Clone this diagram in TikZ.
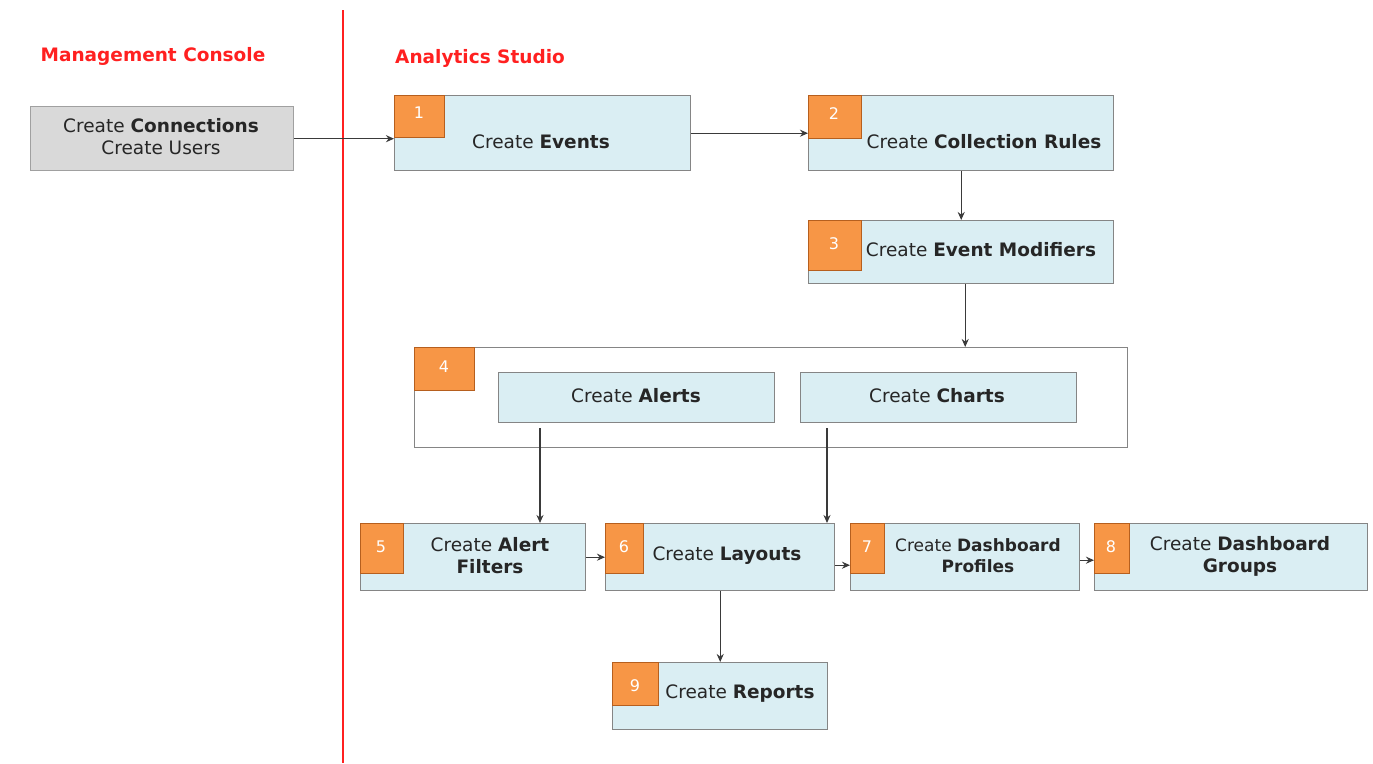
\documentclass[tikz,border=0pt]{standalone}
\usepackage{fontspec}
\setmainfont{DejaVu Sans}
\usetikzlibrary{arrows.meta}
\definecolor{boxfill}{HTML}{DAEEF3}
\definecolor{boxline}{HTML}{858585}
\definecolor{numfill}{HTML}{F79646}
\definecolor{numline}{HTML}{B65F1E}
\definecolor{mcfill}{HTML}{D9D9D9}
\definecolor{mcline}{HTML}{A0A0A0}
\definecolor{txt}{HTML}{262626}
\definecolor{arrowc}{HTML}{3A3A3A}
\definecolor{lanered}{HTML}{FF2020}
\tikzset{
  x=1pt, y=-1pt,
  stepbox/.style={draw=boxline, fill=boxfill, line width=1.4pt, inner sep=0pt, anchor=north west},
  greybox/.style={draw=mcline, fill=mcfill, line width=1.4pt, inner sep=0pt, anchor=north west},
  groupbox/.style={draw=boxline, fill=white, line width=1.4pt, inner sep=0pt, anchor=north west},
  numbox/.style={draw=numline, fill=numfill, line width=1pt, inner sep=0pt, anchor=north west},
  numtext/.style={text=white, font=\fontsize{16}{19}\selectfont, inner sep=0pt},
  label/.style={text=txt, font=\fontsize{18.5}{22}\selectfont, align=center, inner sep=0pt},
  smalllabel/.style={label, font=\fontsize{17}{21}\selectfont},
  title/.style={text=lanered, font=\fontsize{18.5}{22}\selectfont\bfseries, inner sep=0pt},
  flow/.style={draw=arrowc, line width=1.4pt, -{Stealth[length=8pt,width=7pt]}},
}
\newcommand{\stepbx}[6]{% name, style, x1, y1, x2, y2
  \node[#2, minimum width={#5-#3}, minimum height={#6-#4}] (#1) at (#3,#4) {};}
\begin{document}
\begin{tikzpicture}
\useasboundingbox (0,0) rectangle (1373,763);

% lane divider and lane titles
\draw[lanered, line width=1.5pt] (343,10) -- (343,763);
\node[title] (mctitle) at (153,56) {Management Console};
\node[title, anchor=west] (astitle) at (395,58) {Analytics Studio};

% management console
\stepbx{mc}{greybox}{30}{106}{293}{170}
\node[label] (mct) at (161,137) {Create \textbf{Connections}\\Create Users};

% step boxes
\stepbx{b1}{stepbox}{394}{95}{690}{170}
\stepbx{n1}{numbox}{394}{95}{444}{137}
\node[label] (t1) at (541,142) {Create \textbf{Events}};

\stepbx{b2}{stepbox}{808}{95}{1113}{170}
\stepbx{n2}{numbox}{808}{95}{861}{138}
\node[label] (t2) at (984,142) {Create \textbf{Collection Rules}};

\stepbx{b3}{stepbox}{808}{220}{1113}{283}
\stepbx{n3}{numbox}{808}{220}{861}{270}
\node[label] (t3) at (981,250) {Create \textbf{Event Modifiers}};

\stepbx{b4}{groupbox}{414}{347}{1127}{447}
\stepbx{n4}{numbox}{414}{347}{474}{390}
\stepbx{al}{stepbox}{498}{372}{774}{422}
\node[label] (alt) at (636,396) {Create \textbf{Alerts}};
\stepbx{ch}{stepbox}{800}{372}{1076}{422}
\node[label] (cht) at (937,396) {Create \textbf{Charts}};

\stepbx{b5}{stepbox}{360}{523}{585}{590}
\stepbx{n5}{numbox}{360}{523}{403}{573}
\node[label] (t5) at (490,556) {Create \textbf{Alert}\\\textbf{Filters}};

\stepbx{b6}{stepbox}{605}{523}{834}{590}
\stepbx{n6}{numbox}{605}{523}{643}{573}
\node[label] (t6) at (727,556) {Create \textbf{Layouts}};

\stepbx{b7}{stepbox}{850}{523}{1079}{590}
\stepbx{n7}{numbox}{850}{523}{884}{573}
\node[smalllabel] (t7) at (978,556) {Create \textbf{Dashboard}\\\textbf{Profiles}};

\stepbx{b8}{stepbox}{1094}{523}{1367}{590}
\stepbx{n8}{numbox}{1094}{523}{1129}{573}
\node[label] (t8) at (1240,556) {Create \textbf{Dashboard}\\\textbf{Groups}};

\stepbx{b9}{stepbox}{612}{662}{827}{729}
\stepbx{n9}{numbox}{612}{662}{658}{705}
\node[label] (t9) at (740,694) {Create \textbf{Reports}};

% step numbers
\node[numtext] (k1) at (419,113) {1};
\node[numtext] (k2) at (834,114) {2};
\node[numtext] (k3) at (834,244) {3};
\node[numtext] (k4) at (444,367) {4};
\node[numtext] (k5) at (381,547) {5};
\node[numtext] (k6) at (624,547) {6};
\node[numtext] (k7) at (867,547) {7};
\node[numtext] (k8) at (1111,547) {8};
\node[numtext] (k9) at (635,686) {9};

% connectors
\coordinate (aout) at (540,428);
\coordinate (cout) at (827,428);
\draw[flow] (mc.east) -- (mc.east -| b1.west);
\draw[flow] (b1.east) -- (b1.east -| b2.west);
\draw[flow] (b2.south) -- (b2.south |- b3.north);
\draw[flow] ([xshift=4pt]b3.south) -- ([xshift=4pt]b3.south |- b4.north);
\draw[flow] (aout) -- (aout |- b5.north);
\draw[flow] (cout) -- (cout |- b6.north);
\draw[flow] (b5.east) -- (b5.east -| b6.west);
\draw[flow] ([yshift=-8pt]b6.east) -- ([yshift=-8pt]b6.east -| b7.west);
\draw[flow] ([yshift=-3pt]b7.east) -- ([yshift=-3pt]b7.east -| b8.west);
\draw[flow] (b6.south) -- (b6.south |- b9.north);
\end{tikzpicture}
\end{document}
